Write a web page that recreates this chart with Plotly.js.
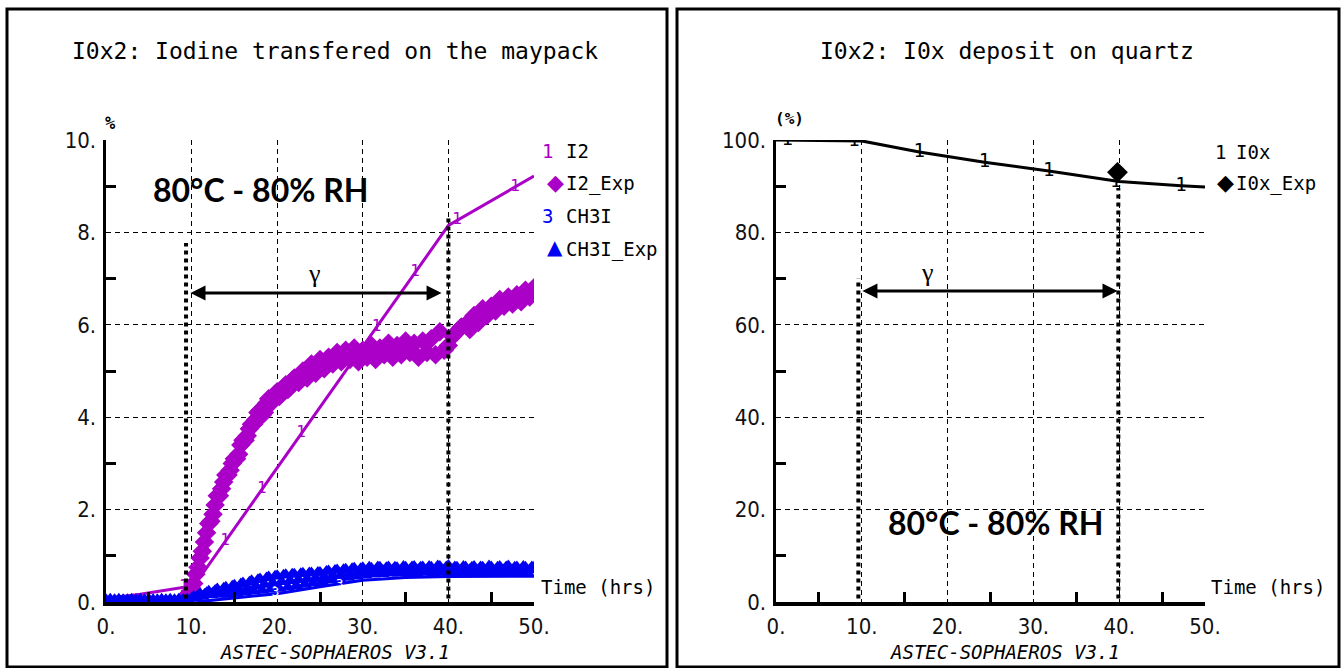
<!DOCTYPE html>
<html>
<head>
<meta charset="utf-8">
<script src="https://cdn.plot.ly/plotly-3.0.1.min.js"></script>
<style>
html,body{margin:0;padding:0;background:#fff;}
#chart{width:1343px;height:668px;}
</style>
</head>
<body>
<div id="chart"></div>
<script>
// ---------------- DATA ----------------
// Left chart: I0x2 - Iodine transfered on the maypack (%)
const i2SimTime  = [0, 4, 9.1, 10, 40, 50];
const i2SimValue = [0.08, 0.17, 0.32, 0.28, 8.15, 9.22];
const i2LabelTime  = [9.1, 13.9, 18.2, 22.8, 31.6, 36.1, 41.0, 47.8];
const i2LabelValue = [0.32, 1.32, 2.45, 3.65, 5.96, 7.14, 8.26, 8.98];

const i2ExpTime = [9.5,9.75,10,10.25,10.5,10.75,11,11.25,11.5,11.75,
                   12,12.25,12.5,12.75,13,13.25,13.5,13.75,14,14.25,
                   14.5,14.75,15,15.25,15.5,15.75,16,16.25,16.5,16.75,
                   17,17.25,17.5,17.75,18,18.25,18.5,18.75,19,19.25,
                   19.5,19.75,20,20.25,20.5,20.75,21,21.25,21.5,21.75,22,
                   22.5,23,23.5,24,24.5,25,25.5,26,26.5,27,27.5,28,28.5,29,29.5,30,30.5,31,31.5,32,32.5,33,33.5,34,34.5,35,35.5,36,36.5,37,37.5,38,38.5,39,39.5,40,40.5,41,41.5,42,42.5,43,43.5,44,44.5,45,45.5,46,46.5,47,47.5,48,48.5,49,49.5,50];
const i2ExpValue = [0.15,0.20,0.30,0.40,0.60,0.75,0.95,1.10,1.30,1.50,
                    1.70,1.75,1.90,2.10,2.30,2.30,2.45,2.60,2.75,2.75,
                    2.85,3.00,3.10,3.10,3.20,3.40,3.50,3.50,3.60,3.75,
                    3.85,3.85,3.95,4.10,4.15,4.05,4.10,4.30,4.40,4.30,
                    4.35,4.50,4.55,4.45,4.50,4.65,4.70,4.60,4.65,4.80,4.85,
                    4.75,5.00,4.85,5.15,
                    4.95,5.25,5.05,5.30,5.15,5.40,5.20,5.45,5.25,5.50,
                    5.20,5.45,5.30,5.55,5.25,5.50,5.35,5.60,5.30,5.55,
                    5.35,5.65,5.40,5.60,5.30,5.65,5.40,5.70,5.35,5.85,
                    5.45,5.55,5.75,5.85,5.95,6.00,5.90,6.20,6.05,6.35,
                    6.20,6.40,6.30,6.55,6.40,6.60,6.45,6.65,6.50,6.75,
                    6.60,6.80];

const ch3iSimTime  = [0, 10, 11.5, 20, 25, 30, 35, 40, 50];
const ch3iSimValue = [0.04, 0.05, 0.02, 0.18, 0.33, 0.47, 0.53, 0.55, 0.56];
const ch3iLabelTime  = [19.8, 27.3];
const ch3iLabelValue = [0.20, 0.38];

const ch3iExpTime = [0,0.5,1,1.5,2,2.5,3,3.5,4,4.5,5,5.5,6,6.5,7,7.5,8,8.5,9,9.5,
  10,10.25,10.5,10.75,11,11.25,11.5,11.75,12,12.25,12.5,12.75,13,13.25,13.5,13.75,14,14.25,14.5,14.75,
  15,15.25,15.5,15.75,16,16.25,16.5,16.75,17,17.25,17.5,17.75,18,18.25,18.5,18.75,19,19.25,19.5,19.75,
  20,20.25,20.5,20.75,21,21.25,21.5,21.75,22,22.25,22.5,22.75,23,23.25,23.5,23.75,24,24.25,24.5,24.75,
  25,25.25,25.5,25.75,26,26.25,26.5,26.75,27,27.25,27.5,27.75,28,28.25,28.5,28.75,29,29.25,29.5,29.75,
  30,30.25,30.5,30.75,31,31.25,31.5,31.75,32,32.25,32.5,32.75,33,33.25,33.5,33.75,34,34.25,34.5,34.75,
  35,35.25,35.5,35.75,36,36.25,36.5,36.75,37,37.25,37.5,37.75,38,38.25,38.5,38.75,39,39.25,39.5,39.75,
  40,40.25,40.5,40.75,41,41.25,41.5,41.75,42,42.25,42.5,42.75,43,43.25,43.5,43.75,44,44.25,44.5,44.75,
  45,45.25,45.5,45.75,46,46.25,46.5,46.75,47,47.25,47.5,47.75,48,48.25,48.5,48.75,49,49.25,49.5,49.75,
  50];
const ch3iExpValue = [0.05,0.06,0.05,0.06,0.05,0.05,0.06,0.05,0.06,0.05,0.06,0.05,0.05,0.06,0.05,0.06,0.05,0.06,0.05,0.06,
  0.08,0.12,0.10,0.14, 0.18,0.12,0.16,0.20, 0.23,0.15,0.20,0.25, 0.28,0.16,0.22,0.30, 0.32,0.17,0.25,0.34,
  0.36,0.19,0.28,0.39, 0.41,0.21,0.31,0.43, 0.46,0.23,0.34,0.48, 0.50,0.25,0.38,0.52, 0.54,0.27,0.41,0.56,
  0.57,0.29,0.44,0.58, 0.59,0.32,0.46,0.60, 0.60,0.35,0.48,0.61, 0.62,0.38,0.50,0.63, 0.63,0.41,0.52,0.64,
  0.64,0.44,0.54,0.66, 0.67,0.47,0.57,0.68, 0.69,0.50,0.59,0.70, 0.71,0.53,0.61,0.72, 0.73,0.56,0.63,0.72,
  0.74,0.58,0.66,0.75, 0.73,0.60,0.67,0.76, 0.75,0.61,0.68,0.74, 0.76,0.62,0.69,0.75, 0.74,0.62,0.68,0.77,
  0.75,0.63,0.69,0.76, 0.77,0.63,0.70,0.75, 0.76,0.64,0.69,0.77, 0.75,0.63,0.70,0.78, 0.77,0.64,0.69,0.76,
  0.79,0.64,0.70,0.76, 0.75,0.63,0.69,0.77, 0.76,0.64,0.70,0.75, 0.77,0.63,0.69,0.76, 0.75,0.64,0.70,0.78,
  0.76,0.63,0.69,0.75, 0.77,0.64,0.70,0.76, 0.78,0.63,0.69,0.75, 0.76,0.64,0.70,0.77, 0.75,0.63,0.69,0.76,
  0.75];

// Right chart: I0x2 - I0x deposit on quartz (%)
const ioxSimTime  = [0, 10, 16.7, 24.3, 31.8, 40, 47.2, 50];
const ioxSimValue = [100, 99.8, 97.4, 95.2, 93.3, 91.0, 90.1, 89.8];
const ioxLabelTime  = [1.3, 9.1, 16.7, 24.3, 31.8, 39.6, 47.2];
const ioxLabelValue = [100, 99.7, 97.4, 95.2, 93.3, 90.9, 90.0];
const ioxExpTime  = [39.8];
const ioxExpValue = [93.0];

// Axis ticks
const xTickVals  = [0, 10, 20, 30, 40, 50];
const xTickText  = ['0.', '10.', '20.', '30.', '40.', '50.'];
const xMinorVals = [5, 15, 25, 35, 45];
const yLeftTickVals  = [0, 2, 4, 6, 8, 10];
const yLeftTickText  = ['0.', '2.', '4.', '6.', '8.', '10.'];
const yLeftMinorVals = [1, 3, 5, 7, 9];
const yRightTickVals  = [0, 20, 40, 60, 80, 100];
const yRightTickText  = ['0.', '20.', '40.', '60.', '80.', '100.'];
const yRightMinorVals = [10, 30, 50, 70, 90];

// Text
const leftTitle  = 'I0x2: Iodine transfered on the maypack';
const rightTitle = 'I0x2: I0x deposit on quartz';
const conditionText = '80°C - 80% RH';
const footerText = 'ASTEC-SOPHAEROS V3.1';
const timeLabel = 'Time (hrs)';

// ---------------- STYLE ----------------
const W = 1343, H = 668;
const MAG = '#ab00c8';
const BLUE = '#0000f2';
const monoFont = 'DejaVu Sans Mono, Liberation Mono, monospace';
const tickFont = {family: 'Liberation Sans Narrow, DejaVu Sans Condensed, sans-serif', size: 22, color: '#111'};
const px = x => x / W;
const py = y => 1 - y / H;

function xAxis(domain, anchor) {
  return {
    domain: domain, anchor: anchor, range: [0, 50], fixedrange: true,
    showline: true, linewidth: 3.5, linecolor: '#000', zeroline: false,
    tickmode: 'array', tickvals: xTickVals, ticktext: xTickText, ticks: '',
    tickfont: tickFont, ticklabelstandoff: 2,
    showgrid: true, gridcolor: '#000', gridwidth: 1, griddash: '5px,4px',
    minor: {tickmode: 'array', tickvals: xMinorVals, ticks: 'inside', ticklen: 10, tickwidth: 3, tickcolor: '#000', showgrid: false}
  };
}
// overlay axis carrying only the inside half-step ticks of the time axis
function xTickAxis(over, anchor) {
  return {
    overlaying: over, anchor: anchor, range: [0, 50], fixedrange: true,
    showline: false, zeroline: false, showgrid: false, showticklabels: false,
    tickmode: 'array', tickvals: xMinorVals, ticks: 'inside', ticklen: 10, tickwidth: 3, tickcolor: '#000'
  };
}
function yAxis(domain, anchor, range, vals, text, minor) {
  return {
    domain: domain, anchor: anchor, range: range, fixedrange: true,
    showline: true, linewidth: 3.5, linecolor: '#000', zeroline: false,
    tickmode: 'array', tickvals: vals, ticktext: text, ticks: '',
    tickfont: tickFont, ticklabelstandoff: 2,
    showgrid: true, gridcolor: '#000', gridwidth: 1, griddash: '5px,4px',
    minor: {tickmode: 'array', tickvals: minor, ticks: 'inside', ticklen: 10, tickwidth: 3, tickcolor: '#000', showgrid: false}
  };
}

const traces = [
  // Left
  {x: i2SimTime, y: i2SimValue, xaxis: 'x', yaxis: 'y', mode: 'lines', line: {color: MAG, width: 3}, showlegend: false, hoverinfo: 'skip'},
  {x: i2LabelTime, y: i2LabelValue, xaxis: 'x', yaxis: 'y', mode: 'text', text: i2LabelTime.map(() => '1'),
   textfont: {family: monoFont, size: 16, color: MAG}, textposition: 'middle center', showlegend: false, hoverinfo: 'skip'},
  {x: i2ExpTime, y: i2ExpValue, xaxis: 'x', yaxis: 'y', mode: 'markers', marker: {symbol: 'diamond', size: 15, color: MAG}, showlegend: false, hoverinfo: 'skip'},
  {x: ch3iSimTime, y: ch3iSimValue, xaxis: 'x', yaxis: 'y', mode: 'lines', line: {color: BLUE, width: 3}, showlegend: false, hoverinfo: 'skip'},
  {x: ch3iExpTime, y: ch3iExpValue, xaxis: 'x', yaxis: 'y', mode: 'markers', marker: {symbol: 'triangle-up', size: 13, color: BLUE}, showlegend: false, hoverinfo: 'skip'},
  {x: ch3iLabelTime, y: ch3iLabelValue, xaxis: 'x', yaxis: 'y', mode: 'text', text: ch3iLabelTime.map(() => '3'),
   textfont: {family: monoFont, size: 13, color: '#ffffff'}, textposition: 'middle center', showlegend: false, hoverinfo: 'skip'},
  // Right
  {x: ioxSimTime, y: ioxSimValue, xaxis: 'x2', yaxis: 'y2', mode: 'lines', line: {color: '#000', width: 3}, showlegend: false, hoverinfo: 'skip'},
  {x: ioxLabelTime, y: ioxLabelValue, xaxis: 'x2', yaxis: 'y2', mode: 'text', text: ioxLabelTime.map(() => '1'),
   textfont: {family: monoFont, size: 19, color: '#000'}, textposition: 'middle center', showlegend: false, hoverinfo: 'skip'},
  {x: ioxExpTime, y: ioxExpValue, xaxis: 'x2', yaxis: 'y2', mode: 'markers', marker: {symbol: 'diamond', size: 16, color: '#000'}, showlegend: false, hoverinfo: 'skip'},
  // empty traces that register the tick-overlay axes
  {x: [], y: [], xaxis: 'x3', yaxis: 'y', mode: 'markers', showlegend: false, hoverinfo: 'skip'},
  {x: [], y: [], xaxis: 'x4', yaxis: 'y2', mode: 'markers', showlegend: false, hoverinfo: 'skip'}
];

function ann(x, y, text, font, xanchor, yanchor) {
  return {xref: 'paper', yref: 'paper', x: px(x), y: py(y), text: text, font: font,
          showarrow: false, xanchor: xanchor || 'center', yanchor: yanchor || 'middle'};
}
const legFont = {family: monoFont, size: 19, color: '#000'};
const annotations = [
  ann(335, 51, leftTitle, {family: monoFont, size: 23, color: '#000'}),
  ann(1007, 51, rightTitle, {family: monoFont, size: 23, color: '#000'}),
  ann(335, 652, footerText, {family: monoFont, size: 19, color: '#000', style: 'italic'}),
  ann(1005, 652, footerText, {family: monoFont, size: 19, color: '#000', style: 'italic'}),
  ann(539, 587, timeLabel, legFont, 'left'),
  ann(1209, 587, timeLabel, legFont, 'left'),
  ann(110, 123, '%', {family: monoFont, size: 17, color: '#000', weight: 700}),
  ann(789, 118, '(%)', {family: monoFont, size: 16, color: '#000', weight: 700}),
  // left legend
  ann(547, 151, '1', {family: monoFont, size: 19, color: MAG}),
  ann(564, 151, 'I2', legFont, 'left'),
  ann(555, 183, '◆', {family: 'DejaVu Sans', size: 22, color: MAG}),
  ann(564, 184, 'I2_Exp', legFont, 'left'),
  ann(547, 216, '3', {family: monoFont, size: 19, color: BLUE}),
  ann(564, 216, 'CH3I', legFont, 'left'),
  ann(555, 247, '▲', {family: 'DejaVu Sans', size: 20, color: BLUE}),
  ann(564, 249, 'CH3I_Exp', legFont, 'left'),
  // right legend
  ann(1220, 152, '1', {family: monoFont, size: 19, color: '#000'}),
  ann(1234, 152, 'I0x', legFont, 'left'),
  ann(1225, 183, '◆', {family: 'DejaVu Sans', size: 22, color: '#000'}),
  ann(1234, 184, 'I0x_Exp', legFont, 'left'),
  // condition labels
  {xref: 'x', yref: 'y', x: 18.1, y: 8.92, text: conditionText, showarrow: false, font: {family: 'Lato, Open Sans, sans-serif', size: 32, color: '#000', weight: 700}},
  {xref: 'x2', yref: 'y2', x: 25.6, y: 17.3, text: conditionText, showarrow: false, font: {family: 'Lato, Open Sans, sans-serif', size: 32, color: '#000', weight: 700}},
  // gamma labels
  {xref: 'x', yref: 'y', x: 24.4, y: 7.12, text: 'γ', showarrow: false, font: {family: 'Liberation Serif, DejaVu Serif, serif', size: 26, color: '#000'}},
  {xref: 'x2', yref: 'y2', x: 17.7, y: 71.4, text: 'γ', showarrow: false, font: {family: 'Liberation Serif, DejaVu Serif, serif', size: 26, color: '#000'}},
  // double arrows
  {xref: 'x', yref: 'y', axref: 'x', ayref: 'y', x: 39.2, y: 6.69, ax: 9.7, ay: 6.69, text: '', showarrow: true,
   arrowhead: 2, startarrowhead: 2, arrowside: 'end+start', arrowwidth: 3, arrowsize: 1, startarrowsize: 1, arrowcolor: '#000'},
  {xref: 'x2', yref: 'y2', axref: 'x2', ayref: 'y2', x: 39.8, y: 67.3, ax: 9.9, ay: 67.3, text: '', showarrow: true,
   arrowhead: 2, startarrowhead: 2, arrowside: 'end+start', arrowwidth: 3, arrowsize: 1, startarrowsize: 1, arrowcolor: '#000'}
];

const dotLine = {color: '#000', width: 4, dash: 'dot'};
const shapes = [
  {type: 'rect', xref: 'paper', yref: 'paper', x0: px(7), x1: px(667), y0: py(667), y1: py(9), line: {color: '#000', width: 3}},
  {type: 'rect', xref: 'paper', yref: 'paper', x0: px(677), x1: px(1339), y0: py(667), y1: py(9), line: {color: '#000', width: 3}},
  {type: 'line', xref: 'x', yref: 'y', x0: 9.35, x1: 9.35, y0: -0.1, y1: 7.77, line: dotLine},
  {type: 'line', xref: 'x', yref: 'y', x0: 40.0, x1: 40.0, y0: -0.1, y1: 8.3, line: dotLine},
  {type: 'line', xref: 'x2', yref: 'y2', x0: 9.6, x1: 9.6, y0: -1, y1: 70.1, line: dotLine},
  {type: 'line', xref: 'x2', yref: 'y2', x0: 39.9, x1: 39.9, y0: -1, y1: 89.6, line: dotLine}
];

const yDomain = [py(602), py(140)];
const layout = {
  width: W, height: H, autosize: false,
  margin: {l: 0, r: 0, t: 0, b: 0, pad: 0},
  paper_bgcolor: '#fff', plot_bgcolor: 'rgba(0,0,0,0)',
  showlegend: false,
  xaxis: xAxis([px(106), px(534)], 'y'),
  yaxis: yAxis(yDomain, 'x', [0, 10], yLeftTickVals, yLeftTickText, yLeftMinorVals),
  xaxis2: xAxis([px(776), px(1205)], 'y2'),
  yaxis2: yAxis(yDomain, 'x2', [0, 100], yRightTickVals, yRightTickText, yRightMinorVals),
  xaxis3: xTickAxis('x', 'y'),
  xaxis4: xTickAxis('x2', 'y2'),
  annotations: annotations,
  shapes: shapes
};

Plotly.newPlot('chart', traces, layout, {displayModeBar: false, staticPlot: true});
</script>
</body>
</html>
